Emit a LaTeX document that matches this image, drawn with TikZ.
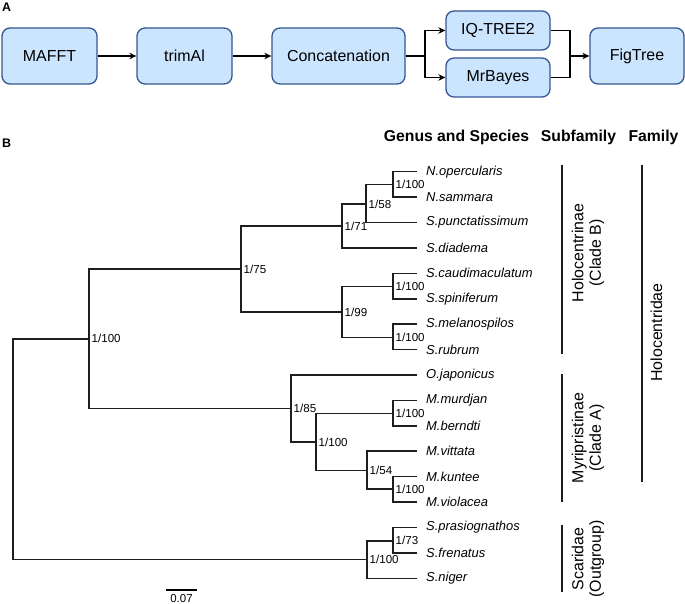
\documentclass[tikz,border=0pt]{standalone}
\usepackage{fontspec}
\setmainfont{Liberation Sans}
\usetikzlibrary{arrows.meta}
\definecolor{boxfill}{RGB}{204,229,255}
\definecolor{boxline}{RGB}{52,86,146}
\definecolor{treeline}{RGB}{30,30,30}
\tikzset{
  flowbox/.style={draw=boxline, fill=boxfill, rounded corners=8bp, line width=1.3bp,
    font=\fontsize{16}{19}\selectfont, inner sep=0pt, minimum height=56bp},
  smallbox/.style={flowbox, minimum height=39bp, minimum width=104bp},
  flowarrow/.style={line width=1.2bp, -{Stealth[length=7bp,width=6.5bp]}},
  flowline/.style={line width=1.2bp},
  branch/.style={line width=1.5bp, draw=treeline},
  leaf/.style={anchor=west, inner sep=0pt, font=\fontsize{13}{15}\selectfont\itshape},
  boot/.style={anchor=west, inner sep=0pt, xshift=2.5bp, font=\fontsize{11.6}{13}\selectfont},
  header/.style={inner sep=0pt, font=\fontsize{15.8}{18}\selectfont\bfseries},
  grouplabel/.style={rotate=90, align=center, inner sep=0pt, font=\fontsize{16}{17.5}\selectfont},
  groupline/.style={line width=1.3bp, draw=treeline},
  panel/.style={inner sep=0pt, font=\fontsize{12.5}{14}\selectfont\bfseries}
}
\begin{document}
\begin{tikzpicture}[x=1bp,y=-1bp]
\useasboundingbox (0,0) rectangle (685,604);
% ---------- Panel A ----------
\node[panel] (pA) at (6.5,7) {A};
\node[flowbox, minimum width=95bp] (mafft) at (49.5,56) {MAFFT};
\node[flowbox, minimum width=95bp] (trim) at (184.5,56) {trimAl};
\node[flowbox, minimum width=133bp] (conc) at (338.5,56) {Concatenation};
\node[smallbox] (iq) at (498,30.5) {IQ-TREE2};
\node[smallbox] (mb) at (498,77.5) {MrBayes};
\node[flowbox, minimum width=94bp] (fig) at (637,56) {FigTree};
\coordinate (split) at (425,56);
\coordinate (join) at (570,56);
\draw[flowarrow] (mafft) -- (trim);
\draw[flowarrow] (trim) -- (conc);
\draw[flowline] (conc.east) -- (split);
\draw[flowarrow] (split) |- (iq.west);
\draw[flowarrow] (split) |- (mb.west);
\draw[flowline] (iq.east) -| (join);
\draw[flowline] (mb.east) -| (join);
\draw[flowarrow] (join) -- (fig.west);
% ---------- Panel B ----------
\node[panel] (pB) at (6.5,143.5) {B};
\node[header] (h1) at (456.5,137) {Genus and Species};
\node[header] (h2) at (578.5,137) {Subfamily};
\node[header] (h3) at (653.5,137) {Family};
% leaf ends
\foreach \i/\nm in {1/N.opercularis,2/N.sammara,3/S.punctatissimum,4/S.diadema,
  5/S.caudimaculatum,6/S.spiniferum,7/S.melanospilos,8/S.rubrum,9/O.japonicus,
  10/M.murdjan,11/M.berndti,12/M.vittata,13/M.kuntee,14/M.violacea,
  15/S.prasiognathos,16/S.frenatus,17/S.niger}{
  \coordinate (t\i) at (417,{171.7+25.41*(\i-1)});
  \node[leaf] (lab\i) at (426,{171.7+25.41*(\i-1)}) {\nm};
}
% internal nodes
\coordinate (a) at (393,184.5);
\coordinate (b) at (366,203.9);
\coordinate (c) at (342,226.1);
\coordinate (d) at (393,286.5);
\coordinate (e) at (393,337.5);
\coordinate (f) at (342,312);
\coordinate (g) at (241,269);
\coordinate (h) at (393,413.3);
\coordinate (i) at (393,489.2);
\coordinate (j) at (367,470.5);
\coordinate (k) at (316,441.9);
\coordinate (l) at (291,408.6);
\coordinate (m) at (89,338.8);
\coordinate (n) at (393,540.8);
\coordinate (o) at (367,559.6);
\coordinate (root) at (13,449.2);
\draw[branch] (a) |- (t1); \draw[branch] (a) |- (t2);
\draw[branch] (b) |- (a);  \draw[branch] (b) |- (t3);
\draw[branch] (c) |- (b);  \draw[branch] (c) |- (t4);
\draw[branch] (d) |- (t5); \draw[branch] (d) |- (t6);
\draw[branch] (e) |- (t7); \draw[branch] (e) |- (t8);
\draw[branch] (f) |- (d);  \draw[branch] (f) |- (e);
\draw[branch] (g) |- (c);  \draw[branch] (g) |- (f);
\draw[branch] (h) |- (t10); \draw[branch] (h) |- (t11);
\draw[branch] (i) |- (t13); \draw[branch] (i) |- (t14);
\draw[branch] (j) |- (t12); \draw[branch] (j) |- (i);
\draw[branch] (k) |- (h);  \draw[branch] (k) |- (j);
\draw[branch] (l) |- (t9); \draw[branch] (l) |- (k);
\draw[branch] (m) |- (g);  \draw[branch] (m) |- (l);
\draw[branch] (n) |- (t15); \draw[branch] (n) |- (t16);
\draw[branch] (o) |- (n);  \draw[branch] (o) |- (t17);
\draw[branch] (root) |- (m); \draw[branch] (root) |- (o);
% support values
\node[boot] at (a) {1/100};
\node[boot] at (b) {1/58};
\node[boot] at (c) {1/71};
\node[boot] at (d) {1/100};
\node[boot] at (e) {1/100};
\node[boot] at (f) {1/99};
\node[boot] at (g) {1/75};
\node[boot] at (h) {1/100};
\node[boot] at (i) {1/100};
\node[boot] at (j) {1/54};
\node[boot] at (k) {1/100};
\node[boot] at (l) {1/85};
\node[boot] at (m) {1/100};
\node[boot] at (n) {1/73};
\node[boot] at (o) {1/100};
% group bars
\coordinate (s1a) at (562,165); \coordinate (s1b) at (562,354);
\coordinate (s2a) at (562,374); \coordinate (s2b) at (562,502);
\coordinate (s3a) at (562,525); \coordinate (s3b) at (562,592);
\coordinate (fa) at (642,165); \coordinate (fb) at (642,482);
\draw[groupline] (s1a) -- (s1b);
\draw[groupline] (s2a) -- (s2b);
\draw[groupline] (s3a) -- (s3b);
\draw[groupline] (fa) -- (fb);
\node[grouplabel] (g1) at (588,253) {Holocentrinae\\(Clade B)};
\node[grouplabel] (g2) at (588,438) {Myripristinae\\(Clade A)};
\node[grouplabel] (g3) at (588,559) {Scaridae\\(Outgroup)};
\node[grouplabel, anchor=base] (g4) at (662,332.5) {Holocentridae};
% scale bar
\coordinate (sb1) at (166,590); \coordinate (sb2) at (197,590);
\draw[line width=1.4bp] (sb1) -- (sb2);
\node[inner sep=0pt, font=\fontsize{11.5}{13}\selectfont] (sbl) at (181.5,598.5) {0.07};
\end{tikzpicture}
\end{document}
